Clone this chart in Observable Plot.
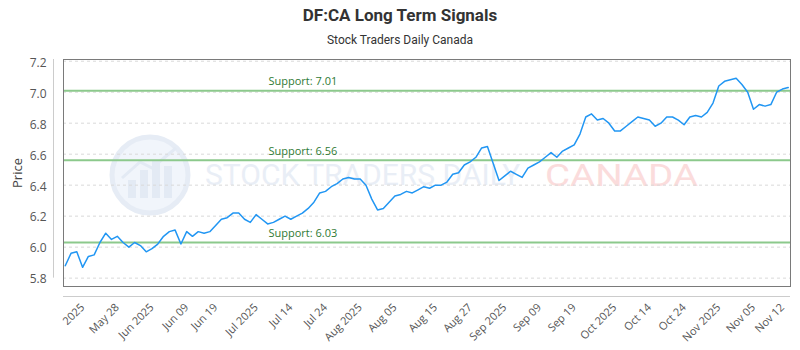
<!DOCTYPE html>
<html>
<head>
<meta charset="utf-8">
<script src="https://cdn.jsdelivr.net/npm/d3@7"></script>
<script src="https://cdn.jsdelivr.net/npm/@observablehq/plot@0.6"></script>
<style>
  body { margin: 0; background: #fff; }
  #wrap { position: relative; width: 800px; height: 350px; overflow: hidden; font-family: "Open Sans", sans-serif; }
  #title { position: absolute; top: 4px; left: 0; width: 800px; text-align: center; font: bold 17px/22px Roboto, sans-serif; color: #333; }
  #subtitle { position: absolute; top: 32px; left: 0; width: 800px; text-align: center; font: 12px/16px Roboto, sans-serif; color: #333; }
  #wm { position: absolute; top: 0; left: 0; }
  #chart { position: absolute; top: 50px; left: 0; }
</style>
</head>
<body>
<div id="wrap">
  <svg id="wm" width="800" height="350">
    <circle cx="150" cy="175" r="38" fill="#f1f5fb" stroke="#e6ecf5" stroke-width="5"/>
    <g fill="#e3eaf4">
      <rect x="128" y="180" width="8" height="18"/>
      <rect x="140" y="170" width="8" height="28"/>
      <rect x="152" y="160" width="8" height="38"/>
      <rect x="164" y="166" width="8" height="32"/>
    </g>
    <path d="M122 178 L140 162 L152 168 L176 148" fill="none" stroke="#e3eaf4" stroke-width="3"/>
    <text x="205" y="185" font-family="Roboto, sans-serif" font-size="30" fill="#e9eef6">STOCK TRADERS DAILY</text>
    <text x="545" y="186" font-family="Roboto, sans-serif" font-size="31" fill="#fbdcdc" textLength="153" lengthAdjust="spacingAndGlyphs">CANADA</text>
  </svg>
  <div id="title">DF:CA Long Term Signals</div>
  <div id="subtitle">Stock Traders Daily Canada</div>
  <div id="chart"></div>
</div>
<script>
const prices = [
  5.88, 5.96, 5.97, 5.87, 5.94, 5.95, 6.03, 6.09, 6.05, 6.07,
  6.03, 6.00, 6.03, 6.01, 5.97, 5.99, 6.02, 6.07, 6.10, 6.11,
  6.02, 6.10, 6.07, 6.10, 6.09, 6.10, 6.14, 6.18, 6.19, 6.22,
  6.22, 6.18, 6.16, 6.21, 6.18, 6.15, 6.16, 6.18, 6.20, 6.18,
  6.20, 6.22, 6.25, 6.29, 6.35, 6.36, 6.39, 6.41, 6.44, 6.45,
  6.44, 6.44, 6.40, 6.31, 6.24, 6.25, 6.29, 6.33, 6.34, 6.36,
  6.35, 6.37, 6.39, 6.38, 6.40, 6.40, 6.42, 6.47, 6.48, 6.53,
  6.55, 6.58, 6.64, 6.65, 6.54, 6.43, 6.46, 6.49, 6.47, 6.45,
  6.51, 6.53, 6.55, 6.58, 6.61, 6.58, 6.62, 6.64, 6.66, 6.73,
  6.84, 6.86, 6.82, 6.83, 6.80, 6.75, 6.75, 6.78, 6.81, 6.84,
  6.83, 6.82, 6.78, 6.80, 6.84, 6.84, 6.82, 6.79, 6.84, 6.85,
  6.84, 6.87, 6.93, 7.04, 7.07, 7.08, 7.09, 7.05, 7.00, 6.89,
  6.92, 6.91, 6.92, 7.00, 7.02, 7.03
];
const tickIndex = [3, 9, 15, 21, 26, 33, 39, 45, 51, 57, 64, 70, 76, 82, 88, 95, 101, 107, 113, 119, 124];
const tickLabels = ["2025", "May 28", "Jun 2025", "Jun 09", "Jun 19", "Jul 2025", "Jul 14", "Jul 24",
  "Aug 2025", "Aug 05", "Aug 15", "Aug 27", "Sep 2025", "Sep 09", "Sep 19", "Oct 2025",
  "Oct 14", "Oct 24", "Nov 2025", "Nov 05", "Nov 12"];
const supports = [7.01, 6.56, 6.03];
const yTicks = [5.8, 6.0, 6.2, 6.4, 6.6, 6.8, 7.0, 7.2];

const xDomain = [-0.3, 125.4];
const yDomain = [5.746, 7.211];
const labelOf = new Map(tickIndex.map((t, i) => [t, tickLabels[i]]));
const series = prices.map((p, i) => ({i, p}));

const chart = Plot.plot({
  width: 800,
  height: 300,
  marginTop: 9,
  marginLeft: 63,
  marginRight: 10,
  marginBottom: 64,
  style: {background: "transparent", fontFamily: "'Open Sans', sans-serif", overflow: "visible"},
  x: {domain: xDomain},
  y: {domain: yDomain},
  marks: [
    Plot.gridY(yTicks, {stroke: "#d9d9d9", strokeOpacity: 1, strokeDasharray: "3,3"}),
    Plot.ruleY(supports, {stroke: "#8cc98c", strokeWidth: 2}),
    Plot.text(supports, {y: d => d, frameAnchor: "left", dx: 205, dy: -9, textAnchor: "start",
      text: d => `Support: ${d.toFixed(2)}`, fill: "#2f7a34", fontSize: 11}),
    Plot.line(series, {x: "i", y: "p", stroke: "#2196f3", strokeWidth: 1.5}),
    Plot.frame({stroke: "#7a7a7a"}),
    Plot.ruleX([xDomain[0]], {y1: yDomain[1], y2: 5.8, dx: -10, stroke: "#cccccc"}),
    Plot.ruleY([yDomain[0]], {x1: xDomain[0], x2: xDomain[1], dy: 10, stroke: "#cccccc"}),
    Plot.axisY(yTicks, {tickSize: 0, tickPadding: 17, dy: 1.5, tickFormat: d => d.toFixed(1), fontSize: 12,
      fill: "#555", label: null}),
    Plot.axisY({label: "Price", tickSize: 0, ticks: [], labelAnchor: "center", labelOffset: 51, labelArrow: "none",
      fontSize: 13, fill: "#444"}),
    Plot.axisX(tickIndex, {tickSize: 0, tickPadding: 19, tickRotate: -45, tickFormat: d => labelOf.get(d),
      fontSize: 11, fill: "#555", label: null})
  ]
});
document.getElementById("chart").appendChild(chart);
</script>
</body>
</html>
